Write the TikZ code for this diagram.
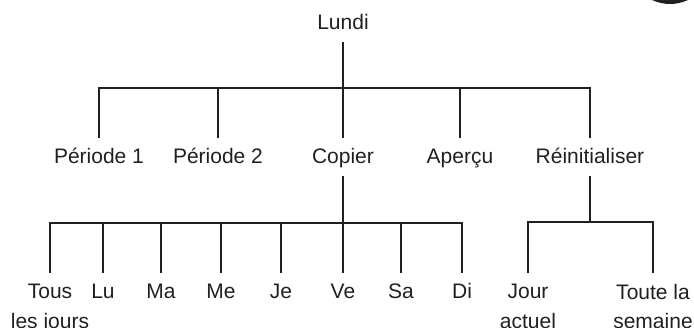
\documentclass[tikz,border=0pt]{standalone}
\usepackage{fontspec}
\setmainfont{Liberation Sans}
\usepackage{xcolor}
\usepackage{tikz}
\definecolor{inkgray}{RGB}{35,31,32}
\tikzset{word/.style={inner xsep=0pt, align=center, text=inkgray, font=\fontsize{21pt}{29.5pt}\selectfont}, entry/.style={word, inner ysep=12pt, text height=14pt, text depth=0pt}, pair/.style={word, inner ysep=11pt, anchor=north}, link/.style={line width=2.6pt, draw=inkgray}}

\begin{document}
\begin{tikzpicture}[x=1pt,y=-1pt]
\useasboundingbox (0,0) rectangle (694,328);
\clip (0,0) rectangle (694,328);
\fill[inkgray] (670,-38) circle[radius=42pt];
\node[entry] (lundi) at (343,23) {Lundi};
\node[entry] (per1) at (99,157) {Période 1};
\node[entry] (per2) at (218,157) {Période 2};
\node[entry] (copier) at (343,157) {Copier};
\node[entry] (apercu) at (460,157) {Aperçu};
\node[entry] (reinit) at (590,157) {Réinitialiser};
\node[pair] (tous) at (50,273) {Tous\\les jours};
\node[entry] (lu) at (103,292) {Lu};
\node[entry] (ma) at (161,292) {Ma};
\node[entry] (me) at (221,292) {Me};
\node[entry] (je) at (281,292) {Je};
\node[entry] (ve) at (343,292) {Ve};
\node[entry] (sa) at (401,292) {Sa};
\node[entry] (di) at (462,292) {Di};
\node[pair] (jour) at (528,273) {Jour\\actuel};
\node[pair] (toute) at (653,273) {Toute la\\semaine};
\coordinate (forkA) at (343,88);
\coordinate (forkB) at (343,223);
\coordinate (forkC) at (590,222);
\draw[link] (lundi) -- (forkA);
\draw[link] (forkA) -| (per1);
\draw[link] (forkA) -| (per2);
\draw[link] (forkA) -- (copier);
\draw[link] (forkA) -| (apercu);
\draw[link] (forkA) -| (reinit);
\draw[link] (copier) -- (forkB);
\draw[link] (forkB) -| (tous);
\draw[link] (forkB) -| (lu);
\draw[link] (forkB) -| (ma);
\draw[link] (forkB) -| (me);
\draw[link] (forkB) -| (je);
\draw[link] (forkB) -- (ve);
\draw[link] (forkB) -| (sa);
\draw[link] (forkB) -| (di);
\draw[link] (reinit) -- (forkC);
\draw[link] (forkC) -| (jour);
\draw[link] (forkC) -| (toute);
\end{tikzpicture}
\end{document}
